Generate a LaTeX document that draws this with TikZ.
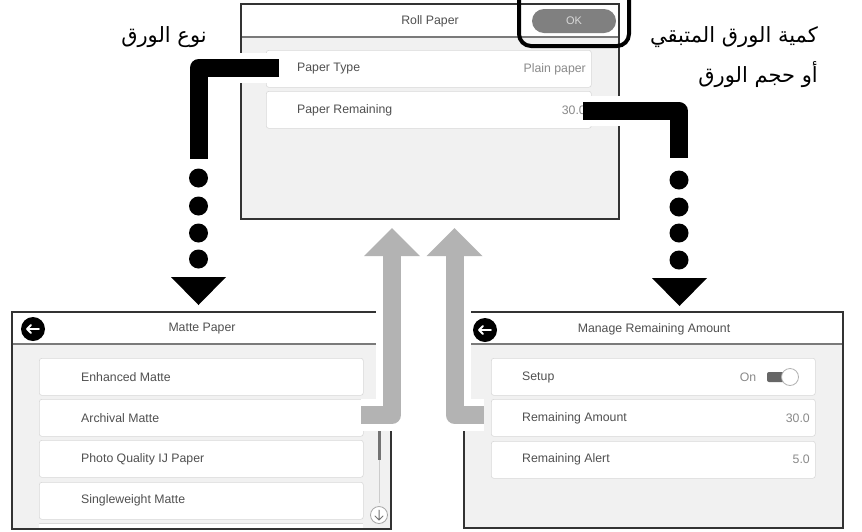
\documentclass[tikz,border=0pt]{standalone}
\usepackage{fontspec}
\setmainfont{Liberation Sans}
\newfontfamily\arabicfont[Script=Arabic]{DejaVu Sans}
\TeXXeTstate=1
\definecolor{panelbg}{HTML}{F1F1F1}
\definecolor{textgray}{HTML}{505050}
\definecolor{valgray}{HTML}{8A8A8A}
\definecolor{okgray}{HTML}{808080}
\definecolor{arrowgray}{HTML}{B3B3B3}
\definecolor{headline}{HTML}{7A7A7A}
\tikzset{
  ui/.style={font=\fontsize{12.3}{14}\selectfont, text=textgray, inner sep=0pt},
  val/.style={ui, text=valgray},
  panelframe/.style={draw=black!80, line width=1.3pt},
  headrule/.style={draw=headline, line width=2pt},
  rowbox/.style={fill=white, draw=black!15, rounded corners=2.5pt, line width=0.6pt, minimum width=325pt, minimum height=37pt, anchor=north west, inner sep=0pt},
  blackbar/.style={black, line width=18pt, line join=round},
  haloline/.style={white, line width=30pt, line join=round},
  graybar/.style={arrowgray, line width=18pt, line join=round},
  grayhalo/.style={white, line width=32pt, line join=round},
  bigdot/.style={circle, fill=black, minimum size=19pt, inner sep=0pt},
  backbtn/.style={circle, fill=black, minimum size=24pt, inner sep=0pt},
  arab/.style={font=\arabicfont\fontsize{21}{38}\selectfont, text=black, inner sep=0pt}
}
\begin{document}
\begin{tikzpicture}[x=1pt,y=-1pt]
\clip (0,0) rectangle (862,531);
\useasboundingbox (0,0) rectangle (862,531);

% ---------- top panel: Roll Paper ----------
\fill[panelbg] (241,4) rectangle (619,219);
\fill[white] (241,4) rectangle (619,37);
\draw[headrule] (241,37) -- (619,37);
\node[ui] (tTitle) at (430,21) {Roll Paper};
\node[fill=okgray, rounded corners=12pt, minimum width=84pt, minimum height=24pt, inner sep=0pt,
      font=\fontsize{11}{13}\selectfont, text=black!15] (ok) at (574,21) {OK};
\node[rowbox] (rowPT) at (266,50) {};
\node[rowbox] (rowPR) at (266,91) {};
\node[ui, anchor=west] (tPT) at (297,69) {Paper Type};
\node[val, anchor=east] (tPlain) at (586,69) {Plain paper};
\node[ui, anchor=west] (tPR) at (297,110) {Paper Remaining};
\node[val, anchor=east] (tPRv) at (586,110) {30.0};
\draw[panelframe] (241,4) rectangle (619,219);
\node[draw=black, line width=4pt, rounded corners=12pt, minimum width=110pt, minimum height=72pt, inner sep=0pt, anchor=south west] (okhl) at (517,48) {};

% ---------- bottom left panel: Matte Paper ----------
\fill[panelbg] (12,312) rectangle (391,529);
\fill[white] (12,312) rectangle (391,344);
\draw[headrule] (12,344) -- (391,344);
\node[backbtn] (mBack) at (33,329) {};
\draw[white, line width=1.8pt, line cap=round, line join=round]
  ([xshift=6pt]mBack.center) -- ([xshift=-6pt]mBack.center)
  ([xshift=-2pt,yshift=4pt]mBack.center) -- ([xshift=-6pt]mBack.center) -- ([xshift=-2pt,yshift=-4pt]mBack.center);
\node[ui] (mTitle) at (202,329) {Matte Paper};
\node[rowbox, minimum width=324pt] (m1) at (39,358) {};
\node[rowbox, minimum width=324pt] (m2) at (39,399) {};
\node[rowbox, minimum width=324pt] (m3) at (39,440) {};
\node[rowbox, minimum width=324pt] (m4) at (39,482) {};
\fill[white] (39,523) rectangle (363,529);
\draw[black!15, line width=0.6pt] (39,523) -- (363,523);
\node[ui, anchor=west] (tm1) at (81,377) {Enhanced Matte};
\node[ui, anchor=west] (tm2) at (81,418) {Archival Matte};
\node[ui, anchor=west] (tm3) at (81,459) {Photo Quality IJ Paper};
\node[ui, anchor=west] (tm4) at (81,500) {Singleweight Matte};
\draw[black!20, line width=1pt] (379,365) -- (379,503);
\draw[black!55, line width=3pt] (379,365) -- (379,460);
\node[circle, draw=black!35, fill=white, minimum size=17pt, inner sep=0pt, line width=0.8pt] (mDown) at (379,515) {};
\draw[black!55, line width=1pt, line cap=round, line join=round]
  ([yshift=5pt]mDown.center) -- ([yshift=-5pt]mDown.center)
  ([xshift=-4pt,yshift=-1pt]mDown.center) -- ([yshift=-5pt]mDown.center) -- ([xshift=4pt,yshift=-1pt]mDown.center);
\draw[panelframe] (12,312) rectangle (391,529);

% ---------- bottom right panel: Manage Remaining Amount ----------
\fill[panelbg] (464,312) rectangle (843,528);
\fill[white] (464,312) rectangle (843,344);
\draw[headrule] (464,344) -- (843,344);
\node[backbtn] (rBack) at (485,330) {};
\draw[white, line width=1.8pt, line cap=round, line join=round]
  ([xshift=6pt]rBack.center) -- ([xshift=-6pt]rBack.center)
  ([xshift=-2pt,yshift=4pt]rBack.center) -- ([xshift=-6pt]rBack.center) -- ([xshift=-2pt,yshift=-4pt]rBack.center);
\node[ui] (rTitle) at (654,329) {Manage Remaining Amount};
\node[rowbox, minimum width=324pt] (r1) at (491,358) {};
\node[rowbox, minimum width=324pt] (r2) at (491,399) {};
\node[rowbox, minimum width=324pt] (r3) at (491,441) {};
\node[ui, anchor=west] (tr1) at (522,377) {Setup};
\node[ui, anchor=west] (tr2) at (522,418) {Remaining Amount};
\node[ui, anchor=west] (tr3) at (522,459) {Remaining Alert};
\node[val] (tOn) at (748,377) {On};
\fill[black!60, rounded corners=2pt] (767,372) rectangle (788,382);
\node[circle, fill=white, draw=black!30, minimum size=17pt, inner sep=0pt, line width=0.8pt] (toggle) at (790,377) {};
\node[val, anchor=east] (tr2v) at (810,418) {30.0};
\node[val, anchor=east] (tr3v) at (810,459) {5.0};
\draw[panelframe] (464,312) rectangle (843,528);

% ---------- gray return arrows ----------
\coordinate (gLs) at (361,415);
\coordinate (gLc) at (392,415);
\coordinate (gLe) at (392,254);
\coordinate (gRs) at (484,415);
\coordinate (gRc) at (454.5,415);
\coordinate (gRe) at (454.5,254);
\draw[grayhalo] (gLs) -- (gLc) -- (gLe);
\draw[grayhalo] (gRs) -- (gRc) -- (gRe);
\filldraw[white, line width=10pt, line join=round] (392,229) -- (364,255) -- (420,255) -- cycle;
\filldraw[white, line width=10pt, line join=round] (454.5,229) -- (426.5,255) -- (482.5,255) -- cycle;
\draw[graybar] (gLs) -- (gLc) -- (gLe);
\draw[graybar] (gRs) -- (gRc) -- (gRe);
\fill[arrowgray] (392,228) -- (364,256) -- (420,256) -- cycle;
\fill[arrowgray] (454.5,228) -- (426.5,256) -- (482.5,256) -- cycle;

% ---------- black connectors ----------
\coordinate (bLs) at (279,68);
\coordinate (bLc) at (198.5,68);
\coordinate (bLe) at (198.5,159);
\draw[haloline] (bLs) -- (bLc) -- (bLe);
\draw[blackbar] (bLs) -- (bLc) -- (bLe);
\node[bigdot] (dL1) at (198.5,178) {};
\node[bigdot] (dL2) at (198.5,206) {};
\node[bigdot] (dL3) at (198.5,233) {};
\node[bigdot] (dL4) at (198.5,259) {};
\fill[black] (171,277) -- (226,277) -- (198.5,305) -- cycle;

\coordinate (bRs) at (583,110.5);
\coordinate (bRc) at (678.5,110.5);
\coordinate (bRe) at (678.5,158);
\draw[haloline] (bRs) -- (bRc) -- (bRe);
\draw[blackbar] (bRs) -- (bRc) -- (bRe);
\node[bigdot] (dR1) at (679,180) {};
\node[bigdot] (dR2) at (679,207) {};
\node[bigdot] (dR3) at (679,233) {};
\node[bigdot] (dR4) at (679,260) {};
\fill[black] (652,278) -- (707,278) -- (679.5,306) -- cycle;

% ---------- Arabic labels ----------
\node[arab] (lblType) at (164,37) {\beginR نوع الورق\endR};
\node[arab, anchor=east] (lblRem1) at (818,37) {\beginR كمية الورق المتبقي\endR};
\node[arab, anchor=east] (lblRem2) at (818,75) {\beginR أو حجم الورق\endR};
\end{tikzpicture}
\end{document}
